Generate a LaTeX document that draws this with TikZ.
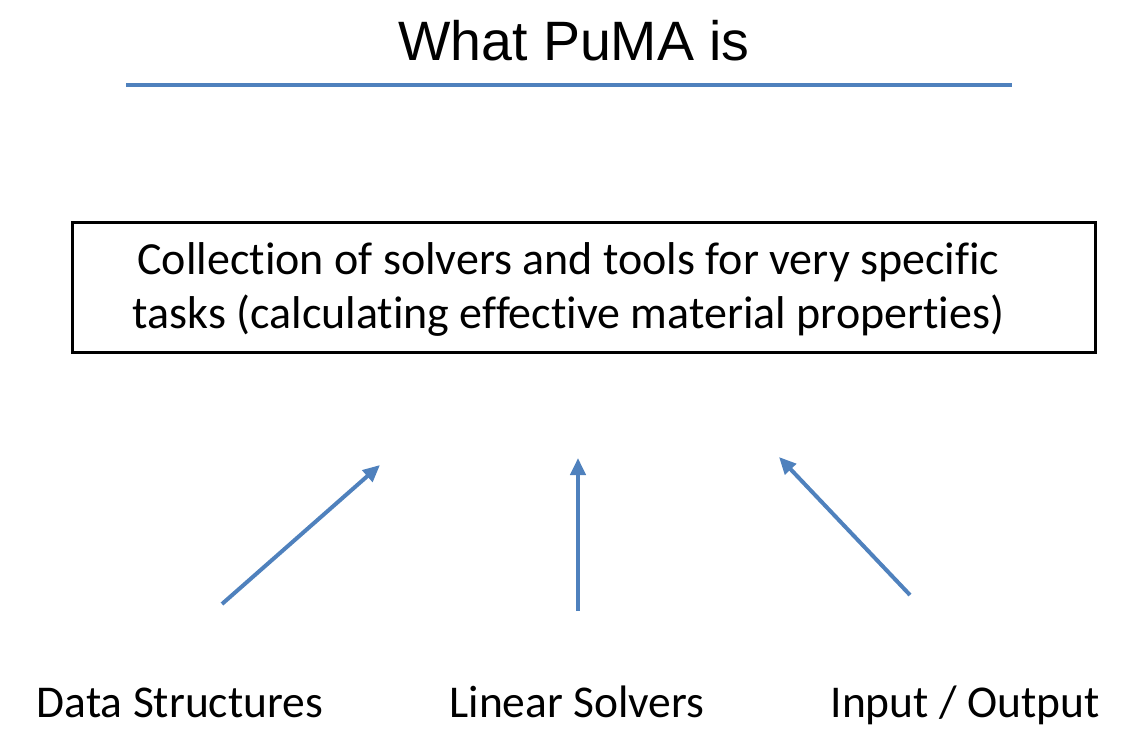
\documentclass[tikz,border=0pt]{standalone}
\usepackage{fontspec}
\setmainfont{Carlito}[Ligatures={NoCommon}]
\newfontfamily\titlefont{Liberation Sans}
\usetikzlibrary{arrows.meta}
\definecolor{pumablue}{RGB}{79,129,189}

\begin{document}
\begin{tikzpicture}[x=1pt,y=-1pt,
    rule/.style={draw=pumablue,line width=4pt},
    up/.style={draw=pumablue,line width=4pt,-{Triangle[length=17pt,width=15pt]}},
    task/.style={draw=black,line width=3pt,minimum width=1023pt,minimum height=130pt},
    tasktext/.style={align=center,font=\fontsize{46}{54}\selectfont},
    part/.style={anchor=base,font=\fontsize{45.5}{50}\selectfont}]
\useasboundingbox (0,0) rectangle (1141,737);
\node[anchor=base,font=\titlefont\fontsize{55.5}{60}\selectfont] (title) at (574,60) {What PuMA is};
\coordinate (ruleL) at (126,85);
\coordinate (ruleR) at (1012,85);
\node[task] (puma) at (583.5,287) {};
\node[tasktext] (pumatext) at (568.5,289) {Collection of solvers and tools for very specific\\tasks (calculating effective material properties)};
\node[part] (data) at (180,717) {Data Structures};
\node[part] (linear) at (577,717) {Linear Solvers};
\node[part] (io) at (965,717) {Input / Output};
\coordinate (dataT) at (222,604);
\coordinate (dataH) at (380,465);
\coordinate (linearT) at (578,611);
\coordinate (linearH) at (578,458);
\coordinate (ioT) at (910,595);
\coordinate (ioH) at (779,457);
\draw[rule] (ruleL) -- (ruleR);
\draw[up] (dataT) -- (dataH);
\draw[up] (linearT) -- (linearH);
\draw[up] (ioT) -- (ioH);
\end{tikzpicture}
\end{document}
